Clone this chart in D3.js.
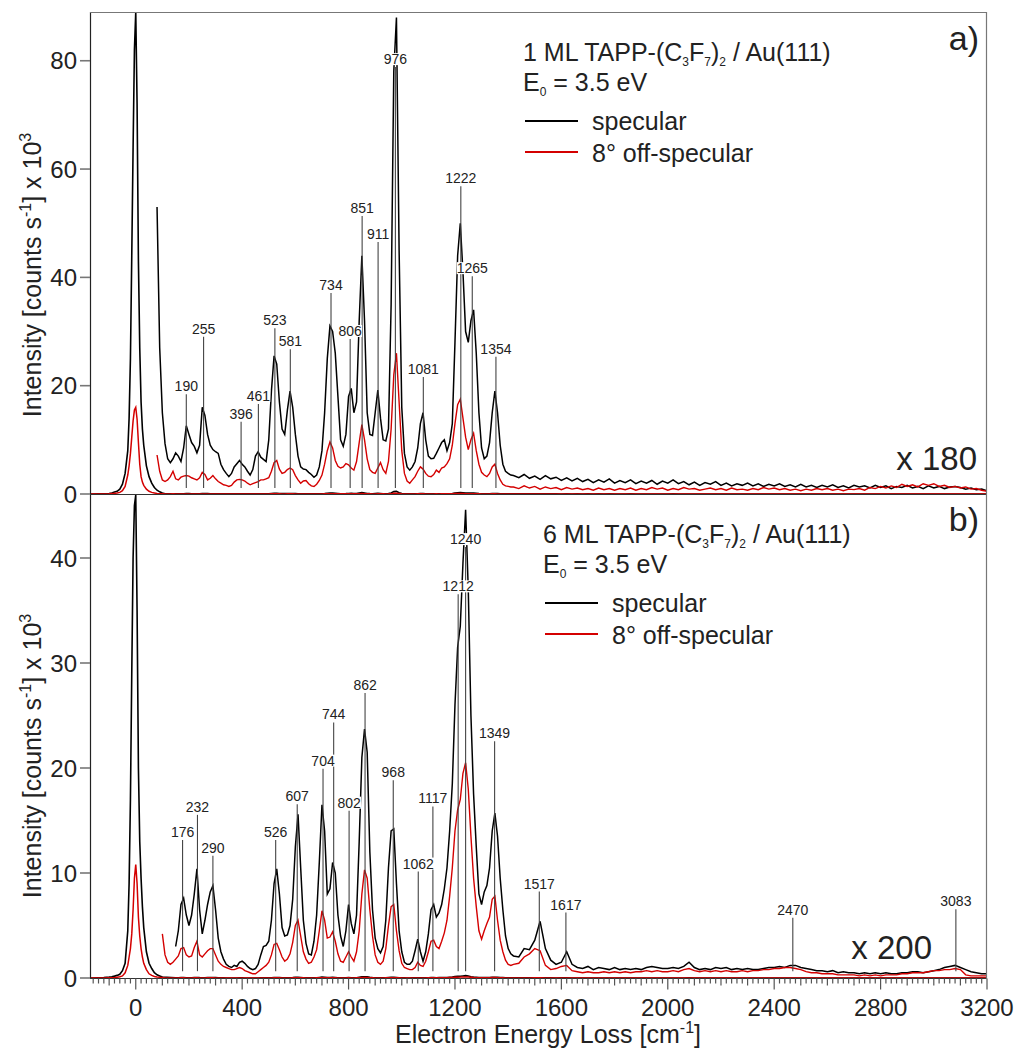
<!doctype html>
<html>
<meta charset="utf-8">
<style>
body { margin: 0; padding: 0; background: #fff; }
svg { font-family: Arial, 'Liberation Sans', Helvetica, sans-serif; }
</style>
<body>
<svg width="1015" height="1049"></svg>
<script src="https://d3js.org/d3.v7.min.js"></script>
<script>

// ---- data (energy loss in cm-1, intensity in counts/s x 10^3) ----
// elastic peak region, shared energies
var elasticE = [-172, -140, -120, -100, -90, -80, -70, -60, -50, -40, -30, -25, -20, -15, -10,
                -5, 0, 5, 10, 15, 20, 25, 30, 40, 50, 60, 70, 80, 90, 100];

// 1 ML, raw elastic peaks
var spec1Elastic = [0, 0.02, 0.05, 0.1, 0.2, 0.35, 0.5, 0.9, 1.8, 3.8, 8, 14, 25, 44, 64,
                    82, 89, 72, 43, 27, 17, 12, 9, 5.2, 3.2, 2.0, 1.2, 0.7, 0.4, 0.2];
var off1Elastic  = [0, 0, 0.02, 0.05, 0.08, 0.12, 0.18, 0.3, 0.6, 1.4, 3.5, 5.2, 7.5, 10.5, 13.5,
                    15.5, 16, 13.8, 9.5, 5.5, 3.2, 2.2, 1.6, 0.9, 0.5, 0.3, 0.2, 0.1, 0.06, 0.04];
// 6 ML, raw elastic peaks
var spec6Elastic = [0, 0.02, 0.04, 0.08, 0.12, 0.18, 0.25, 0.35, 0.7, 1.4, 4.5, 9, 17, 29, 40,
                    45, 46, 35, 20, 13, 9.5, 6.8, 4.8, 2.5, 1.4, 0.9, 0.5, 0.3, 0.2, 0.1];
var off6Elastic  = [0, 0, 0, 0.02, 0.03, 0.05, 0.08, 0.12, 0.2, 0.5, 1.2, 2.0, 2.8, 4.2, 6.5,
                    9.5, 10.8, 9.0, 5.8, 4.0, 2.8, 2.0, 1.4, 0.8, 0.4, 0.25, 0.15, 0.1, 0.07, 0.05];

// magnified spectra: every 10 cm-1 from the start up to 1410, then every 20 cm-1 up to 3200
var spec1Start = 80, off1Start = 80, spec6Start = 150, off6Start = 100;
var mag1 = 180, mag6 = 200;

var spec1Dense = [
  53, 27, 15, 9.3, 6.5, 5.8, 6.5, 7.6, 7.0, 6.0,            // 80
  8.5, 12.6, 11.0, 9.5, 8.8, 7.6, 9.0, 16.0, 14.5, 11.0,   // 180
  9.0, 8.2, 7.8, 7.5, 5.5, 4.5, 3.8, 3.2, 3.8, 5.0,        // 280
  5.6, 6.2, 5.5, 5.0, 4.2, 3.5, 4.5, 7.0, 7.8, 6.8,        // 380
  6.4, 6.0, 10.0, 19.0, 25.5, 24.0, 17.0, 12.0, 11.0, 15.5, // 480
  19.0, 16.0, 11.0, 7.0, 5.0, 4.6, 4.5, 4.0, 3.6, 3.1,     // 580
  3.5, 5.0, 8.0, 15.0, 25.0, 31.0, 30.0, 26.0, 18.0, 10.0, // 680
  8.8, 11.0, 18.0, 19.5, 15.0, 17.0, 32.0, 44.0, 32.0, 15.0, // 780
  11.0, 10.8, 15.0, 19.2, 14.0, 10.0, 9.8, 12.0, 35.0, 78.0, // 880
  88.0, 45.0, 16.0, 7.5, 5.0, 4.4, 5.0, 6.0, 8.5, 13.0,    // 980
  15.0, 10.0, 7.0, 6.5, 6.6, 7.5, 8.5, 9.5, 10.0, 8.0,     // 1080
  9.5, 13.0, 28.0, 44.0, 50.0, 41.0, 30.0, 28.0, 32.0, 34.0, // 1180
  26.0, 15.0, 8.5, 6.5, 7.0, 9.5, 15.0, 19.0, 15.0, 9.0,   // 1280
  5.5, 4.2, 3.8, 3.5];                                     // 1380
var spec1Sparse = [
  3.4, 3.0, 3.6, 2.9, 3.3, 2.7, 3.4, 2.8, 3.1, 2.5,   // 1420
  3.0, 2.4, 2.9, 2.3, 2.7, 2.1, 2.6, 2.2, 2.8, 2.0,   // 1620
  2.5, 2.1, 2.6, 1.9, 2.4, 2.0, 2.5, 1.8, 2.4, 2.0,   // 1820
  2.6, 1.9, 2.3, 1.7, 2.2, 1.6, 2.1, 1.8, 2.3, 1.6,   // 2020
  2.0, 1.5, 1.9, 1.6, 2.0, 1.5, 1.9, 1.4, 1.8, 1.5,   // 2220
  1.9, 1.4, 1.7, 1.3, 1.8, 1.3, 1.6, 1.2, 1.6, 1.3,   // 2420
  1.7, 1.2, 1.5, 1.1, 1.6, 1.3, 1.5, 1.1, 1.6, 1.2,   // 2620
  1.5, 1.0, 1.4, 1.2, 1.6, 1.1, 1.4, 1.0, 1.5, 1.1,   // 2820
  1.4, 1.0, 1.3, 1.4, 1.2, 0.9, 1.1, 0.8, 0.9, 0.6];  // 3020

var off1Dense = [
  7.2, 4.2, 2.6, 2.3, 2.6, 3.2, 4.2, 2.8, 2.6, 3.1,   // 80
  3.3, 3.4, 3.3, 3.0, 2.8, 2.6, 3.0, 4.0, 3.6, 2.6,   // 180
  2.9, 3.4, 2.8, 2.3, 2.0, 1.7, 1.6, 1.4, 1.6, 2.2,   // 280
  2.6, 2.7, 2.6, 2.4, 2.0, 1.7, 1.9, 2.1, 2.3, 2.6,   // 380
  2.6, 2.8, 3.0, 4.2, 5.8, 6.2, 4.6, 3.8, 4.0, 4.5,   // 480
  4.8, 4.5, 3.4, 2.6, 2.0, 2.4, 2.5, 1.9, 1.5, 1.4,   // 580
  1.8, 2.5, 3.5, 5.5, 8.0, 9.6, 8.5, 6.2, 5.1, 4.8,   // 680
  5.0, 5.6, 5.4, 4.8, 4.4, 6.0, 9.5, 12.8, 10.0, 6.5, // 780
  4.5, 4.0, 3.8, 4.8, 5.8, 4.5, 3.8, 6.0, 12.0, 22.0, // 880
  26.0, 17.0, 8.0, 3.8, 2.4, 2.0, 2.6, 3.2, 4.2, 5.0, // 980
  4.6, 3.8, 3.3, 3.2, 3.6, 4.4, 4.0, 4.8, 5.0, 5.6,   // 1080
  6.5, 9.0, 13.0, 16.5, 17.5, 14.0, 10.5, 8.2, 10.0, 11.2, // 1180
  8.0, 5.5, 4.0, 3.5, 3.2, 3.8, 5.0, 5.5, 3.8, 2.6,   // 1280
  1.8, 1.5, 1.4, 1.3];                                // 1380
var off1Sparse = [
  1.3, 1.0, 1.5, 1.1, 1.4, 0.9, 1.3, 1.0, 1.2, 0.8,   // 1420
  1.2, 0.9, 1.1, 0.8, 1.0, 0.7, 1.1, 0.8, 1.0, 0.7,   // 1620
  1.0, 0.8, 1.1, 0.7, 1.0, 0.8, 1.2, 0.9, 1.1, 0.7,   // 1820
  1.0, 0.8, 1.2, 0.9, 1.0, 0.7, 0.9, 1.1, 0.8, 1.0,   // 2020
  0.7, 1.1, 0.8, 0.9, 0.7, 1.0, 0.8, 1.2, 0.9, 1.1,   // 2220
  0.8, 1.0, 0.7, 0.9, 0.6, 0.9, 0.7, 1.0, 0.8, 1.0,   // 2420
  0.7, 0.9, 0.6, 0.9, 0.8, 1.0, 0.7, 1.2, 1.0, 1.4,   // 2620
  1.1, 1.5, 1.2, 1.8, 1.4, 1.7, 1.3, 1.9, 1.6, 1.9,   // 2820
  1.4, 1.6, 1.2, 1.4, 1.1, 1.3, 0.9, 1.0, 0.7, 0.5];  // 3020

var spec6Dense = [
  3.0, 4.5, 7.0, 7.6, 6.0, 5.0, 6.0, 8.0, 10.4, 6.5,      // 150
  4.2, 5.5, 7.0, 8.2, 8.8, 6.5, 3.8, 2.5, 1.8, 1.3,       // 250
  1.1, 1.0, 1.2, 1.1, 1.5, 1.6, 1.4, 1.1, 0.9, 0.8,       // 350
  0.9, 1.3, 2.2, 3.0, 3.1, 3.5, 5.5, 9.0, 10.4, 8.0,      // 450
  4.8, 4.0, 4.1, 5.0, 7.5, 12.5, 15.6, 10.5, 5.5, 3.3,    // 550
  2.3, 2.2, 3.5, 6.0, 11.0, 16.5, 14.0, 8.0, 8.5, 11.0,   // 650
  10.0, 6.0, 4.0, 3.0, 4.5, 7.0, 5.2, 4.2, 6.0, 13.0,     // 750
  21.0, 23.7, 21.5, 12.0, 6.5, 3.8, 2.8, 2.4, 3.0, 5.5,   // 850
  10.5, 14.0, 14.2, 9.0, 4.5, 2.5, 1.5, 1.3, 1.3, 1.6,    // 950
  2.6, 3.7, 2.5, 1.6, 2.5, 4.2, 6.5, 7.0, 5.8, 6.2,       // 1050
  7.0, 8.5, 10.5, 14.0, 18.5, 26.0, 31.5, 33.5, 39.5, 44.6, // 1150
  37.0, 25.0, 17.5, 12.5, 8.0, 7.0, 8.2, 8.8, 10.5, 14.0, // 1250
  15.7, 13.5, 9.5, 6.5, 4.0, 2.8, 2.3];                   // 1350
var spec6Sparse = [
  2.1, 2.0, 2.8, 2.7, 3.6, 5.4, 2.8, 1.7, 1.3, 1.5,   // 1420
  2.5, 1.3, 1.0, 0.9, 1.1, 0.8, 1.0, 0.9, 0.8, 1.0,   // 1620
  0.8, 0.9, 0.8, 0.9, 0.8, 1.0, 1.1, 1.0, 0.9, 0.9,   // 1820
  1.0, 0.9, 1.1, 1.5, 1.0, 0.8, 0.9, 0.8, 1.0, 0.9,   // 2020
  1.0, 0.8, 0.9, 0.8, 0.9, 0.8, 0.8, 0.9, 1.0, 1.0,   // 2220
  1.1, 1.0, 1.2, 1.2, 1.0, 0.9, 0.8, 0.7, 0.7, 0.6,   // 2420
  0.7, 0.5, 0.6, 0.5, 0.5, 0.4, 0.5, 0.4, 0.5, 0.4,   // 2620
  0.5, 0.4, 0.4, 0.5, 0.5, 0.6, 0.6, 0.5, 0.6, 0.7,   // 2820
  0.8, 1.0, 1.1, 1.2, 1.0, 0.8, 0.6, 0.5, 0.4, 0.4];  // 3020

var off6Dense = [
  4.2, 2.2, 1.5, 1.3, 1.5, 1.8, 2.1, 2.8, 2.9, 2.2,   // 100
  2.0, 2.1, 2.9, 3.5, 2.2, 2.0, 2.3, 2.6, 2.8, 2.8,   // 200
  2.2, 1.6, 1.3, 1.1, 1.0, 0.9, 0.8, 0.8, 0.9, 1.0,   // 300
  0.9, 0.7, 0.6, 0.5, 0.4, 0.4, 0.6, 0.8, 1.0, 1.2,   // 400
  1.5, 2.2, 3.2, 3.3, 2.7, 2.0, 1.6, 1.8, 2.3, 3.4,   // 500
  5.0, 5.5, 4.0, 2.5, 1.8, 1.4, 1.5, 2.0, 2.7, 4.5,   // 600
  6.4, 5.5, 3.8, 3.9, 4.4, 3.5, 2.3, 1.6, 1.5, 2.0,   // 700
  2.5, 2.0, 1.6, 2.5, 4.5, 8.0, 10.3, 9.5, 6.5, 4.0,  // 800
  2.2, 1.5, 1.3, 1.6, 2.8, 5.0, 6.8, 7.0, 4.5, 2.6,   // 900
  1.4, 1.0, 0.9, 0.8, 0.8, 1.0, 1.5, 1.2, 1.1, 1.6,   // 1000
  2.5, 3.5, 3.6, 3.0, 2.8, 3.5, 4.3, 5.5, 7.8, 10.5,  // 1100
  14.0, 16.0, 17.0, 19.5, 20.5, 18.0, 13.5, 9.5, 6.8, 4.5, // 1200
  3.7, 4.5, 5.2, 5.8, 7.5, 7.8, 5.5, 3.6, 2.5, 1.7,   // 1300
  1.3, 1.2];                                          // 1400
var off6Sparse = [
  1.3, 1.4, 2.0, 2.3, 2.8, 2.6, 1.2, 0.8, 0.9, 1.1,   // 1420
  1.2, 0.7, 0.6, 0.5, 0.6, 0.5, 0.5, 0.6, 0.5, 0.6,   // 1620
  0.5, 0.6, 0.5, 0.6, 0.6, 0.7, 0.6, 0.7, 0.6, 0.6,   // 1820
  0.7, 0.6, 0.8, 0.9, 0.7, 0.6, 0.7, 0.6, 0.7, 0.6,   // 2020
  0.7, 0.6, 0.6, 0.7, 0.6, 0.7, 0.7, 0.8, 0.8, 0.9,   // 2220
  0.9, 1.0, 1.0, 0.9, 0.8, 0.6, 0.5, 0.5, 0.4, 0.4,   // 2420
  0.4, 0.3, 0.3, 0.3, 0.3, 0.2, 0.3, 0.2, 0.3, 0.2,   // 2620
  0.3, 0.3, 0.3, 0.4, 0.4, 0.5, 0.5, 0.5, 0.6, 0.7,   // 2820
  0.7, 0.8, 0.8, 0.9, 0.8, 0.3, 0.2, 0.2, 0.2, 0.2];  // 3020

// peak labels: energy and the intensity level where the label sits
var peaks1  = [190, 255, 396, 461, 523, 581, 734, 806, 851, 911, 976, 1081, 1222, 1265, 1354];
var levels1 = [19.9, 30.5, 14.8, 18.1, 32.1, 28.2, 38.6, 30.1, 52.8, 48.0, 80.3, 23.1, 58.3, 41.7, 26.8];
var peaks6  = [176, 232, 290, 526, 607, 704, 744, 802, 862, 968, 1062, 1117, 1212, 1240, 1349, 1517, 1617, 2470, 3083];
var levels6 = [13.9, 16.3, 12.4, 13.9, 17.3, 20.7, 25.1, 16.7, 27.9, 19.6, 10.9, 17.1, 37.3, 41.8, 23.3, 9.0, 7.0, 6.5, 7.3];

var xTicks = [0, 400, 800, 1200, 1600, 2000, 2400, 2800, 3200];
var yTicks1 = [0, 20, 40, 60, 80];
var yTicks6 = [0, 10, 20, 30, 40];

// ---- helpers ----
function grid(start) {
  return d3.range(start, 1411, 10).concat(d3.range(1420, 3201, 20));
}
function pairs(start, dense, sparse) {
  var v = dense.concat(sparse), e = grid(start);
  if (v.length != e.length) console.log('length mismatch', start, v.length, e.length);
  return e.map(function(d, i) { return [d, v[i]]; });
}
// unmagnified trace: the elastic peak, then the magnified trace scaled back down
function raw(elastic, mag, factor) {
  return elasticE.map(function(d, i) { return [d, elastic[i]]; })
    .concat(mag.filter(function(d) { return d[0] > 100; })
               .map(function(d) { return [d[0], d[1] / factor]; }));
}

var spec1x = pairs(spec1Start, spec1Dense, spec1Sparse);
var off1x  = pairs(off1Start, off1Dense, off1Sparse);
var spec6x = pairs(spec6Start, spec6Dense, spec6Sparse);
var off6x  = pairs(off6Start, off6Dense, off6Sparse);

var RED = "#d40000", TXT = "#222";
var svg = d3.select("svg");
var x = d3.scaleLinear().domain([-172, 3200]).range([90, 987]);

var panels = [
  { y: d3.scaleLinear().domain([0, 89]).range([494, 12]),
    spec: raw(spec1Elastic, spec1x, mag1), off: raw(off1Elastic, off1x, mag1),
    specX: spec1x, offX: off1x, peaks: peaks1, levels: levels1, lineBottom: 1.1,
    yTicks: yTicks1, titleY: 275, tag: "a)", tagY: 50,
    mag: "x 180", magX: 977, magY: 470,
    head: "1", dx: 0, dy: 0 },
  { y: d3.scaleLinear().domain([0, 46]).range([978, 495]),
    spec: raw(spec6Elastic, spec6x, mag6), off: raw(off6Elastic, off6x, mag6),
    specX: spec6x, offX: off6x, peaks: peaks6, levels: levels6, lineBottom: 0.65,
    yTicks: yTicks6, titleY: 756, tag: "b)", tagY: 531,
    mag: "x 200", magX: 932, magY: 959,
    head: "6", dx: 20, dy: 482 }
];

panels.forEach(function(p, k) {
  var y = p.y;
  var top = y.range()[1], bot = y.range()[0];

  svg.append("clipPath").attr("id", "clip" + k)
    .append("rect").attr("x", 90).attr("y", top).attr("width", 897).attr("height", bot - top);

  var line = d3.line().x(function(d) { return x(d[0]); }).y(function(d) { return y(d[1]); });
  var g = svg.append("g").attr("clip-path", "url(#clip" + k + ")");

  g.append("path").datum(p.spec).attr("d", line)
    .attr("fill", "none").attr("stroke", "#000").attr("stroke-width", 1.6);
  g.append("path").datum(p.specX).attr("d", line)
    .attr("fill", "none").attr("stroke", "#000").attr("stroke-width", 1.5);
  g.append("path").datum(p.off).attr("d", line)
    .attr("fill", "none").attr("stroke", RED).attr("stroke-width", 1.5);
  g.append("path").datum(p.offX).attr("d", line)
    .attr("fill", "none").attr("stroke", RED).attr("stroke-width", 1.4);

  // peak marker lines and labels
  var lab = svg.append("g");
  p.peaks.forEach(function(e, i) {
    var cy = y(p.levels[i]);
    lab.append("line")
      .attr("x1", x(e)).attr("x2", x(e))
      .attr("y1", cy + 8).attr("y2", y(p.lineBottom))
      .attr("stroke", "#444").attr("stroke-width", 1.1);
  });
  p.peaks.forEach(function(e, i) {
    var cy = y(p.levels[i]);
    var t = lab.append("text")
      .attr("x", x(e)).attr("y", cy + 5)
      .attr("text-anchor", "middle")
      .attr("font-size", 14).attr("fill", TXT)
      .text(e);
    var b = t.node().getBBox();
    lab.insert("rect", function() { return t.node(); })
      .attr("x", b.x).attr("y", b.y + 2).attr("width", b.width).attr("height", b.height - 4)
      .attr("fill", "#fff");
  });

  // frame
  svg.append("line").attr("x1", 90.5).attr("x2", 90.5).attr("y1", top).attr("y2", bot)
    .attr("stroke", "#222").attr("stroke-width", 1.2);
  svg.append("line").attr("x1", 90).attr("x2", 987).attr("y1", bot + 0.5).attr("y2", bot + 0.5)
    .attr("stroke", "#333").attr("stroke-width", 1.2);

  // y ticks
  p.yTicks.forEach(function(v) {
    svg.append("line").attr("x1", 80).attr("x2", 90).attr("y1", y(v)).attr("y2", y(v))
      .attr("stroke", "#777").attr("stroke-width", 1.6);
    svg.append("text").attr("x", 77).attr("y", y(v) + 8.6)
      .attr("text-anchor", "end").attr("font-size", 24).attr("fill", TXT).text(v);
  });

  // y title
  var yt = svg.append("text")
    .attr("transform", "translate(41," + p.titleY + ") rotate(-90)")
    .attr("text-anchor", "middle").attr("font-size", 25).attr("fill", TXT);
  yt.append("tspan").text("Intensity [counts s");
  yt.append("tspan").attr("font-size", 16).attr("dy", -10).text("-1");
  yt.append("tspan").attr("dy", 10).text("] x 10");
  yt.append("tspan").attr("font-size", 16).attr("dy", -10).text("3");

  // legend
  var h = svg.append("text").attr("x", 523 + p.dx).attr("y", 61 + p.dy)
    .attr("font-size", 25).attr("fill", TXT);
  h.append("tspan").text(p.head + " ML TAPP-(C");
  h.append("tspan").attr("font-size", 12).attr("dy", 5).text("3");
  h.append("tspan").attr("dy", -5).text("F");
  h.append("tspan").attr("font-size", 12).attr("dy", 5).text("7");
  h.append("tspan").attr("dy", -5).text(")");
  h.append("tspan").attr("font-size", 12).attr("dy", 5).text("2");
  h.append("tspan").attr("dy", -5).text(" / Au(111)");

  var e0 = svg.append("text").attr("x", 523 + p.dx).attr("y", 91 + p.dy)
    .attr("font-size", 25).attr("fill", TXT);
  e0.append("tspan").text("E");
  e0.append("tspan").attr("font-size", 12).attr("dy", 5).text("0");
  e0.append("tspan").attr("dy", -5).text(" = 3.5 eV");

  [["specular", "#000", 121, 130], ["8\u00b0 off-specular", RED, 152, 162]].forEach(function(r) {
    svg.append("line").attr("x1", 525 + p.dx).attr("x2", 578 + p.dx)
      .attr("y1", r[2] + p.dy).attr("y2", r[2] + p.dy)
      .attr("stroke", r[1]).attr("stroke-width", 2);
    svg.append("text").attr("x", 592 + p.dx).attr("y", r[3] + p.dy)
      .attr("font-size", 25).attr("fill", TXT).text(r[0]);
  });

  svg.append("text").attr("x", 979).attr("y", p.tagY).attr("text-anchor", "end")
    .attr("font-size", 34).attr("fill", TXT).text(p.tag);
  svg.append("text").attr("x", p.magX).attr("y", p.magY).attr("text-anchor", "end")
    .attr("font-size", 33).attr("fill", TXT).text(p.mag);
});

// outer frame top and right
svg.append("line").attr("x1", 90).attr("x2", 987).attr("y1", 12.5).attr("y2", 12.5)
  .attr("stroke", "#777").attr("stroke-width", 1.2);
svg.append("line").attr("x1", 986.5).attr("x2", 986.5).attr("y1", 12).attr("y2", 979)
  .attr("stroke", "#777").attr("stroke-width", 1.2);

// x ticks on the bottom axis
var axY = 978.5;
d3.range(-160, 3201, 20).forEach(function(e) {
  var len = (e % 400 == 0) ? 11 : (e % 100 == 0 ? 7 : 5);
  svg.append("line").attr("x1", x(e)).attr("x2", x(e)).attr("y1", axY).attr("y2", axY + len)
    .attr("stroke", "#555").attr("stroke-width", 1.2);
});
xTicks.forEach(function(e) {
  svg.append("text").attr("x", x(e)).attr("y", 1016).attr("text-anchor", "middle")
    .attr("font-size", 24).attr("fill", TXT).text(e);
});
var xt = svg.append("text").attr("x", 548).attr("y", 1043).attr("text-anchor", "middle")
  .attr("font-size", 25).attr("fill", TXT);
xt.append("tspan").text("Electron Energy Loss [cm");
xt.append("tspan").attr("font-size", 16).attr("dy", -10).text("-1");
xt.append("tspan").attr("dy", 10).text("]");

</script>
</body>
</html>
